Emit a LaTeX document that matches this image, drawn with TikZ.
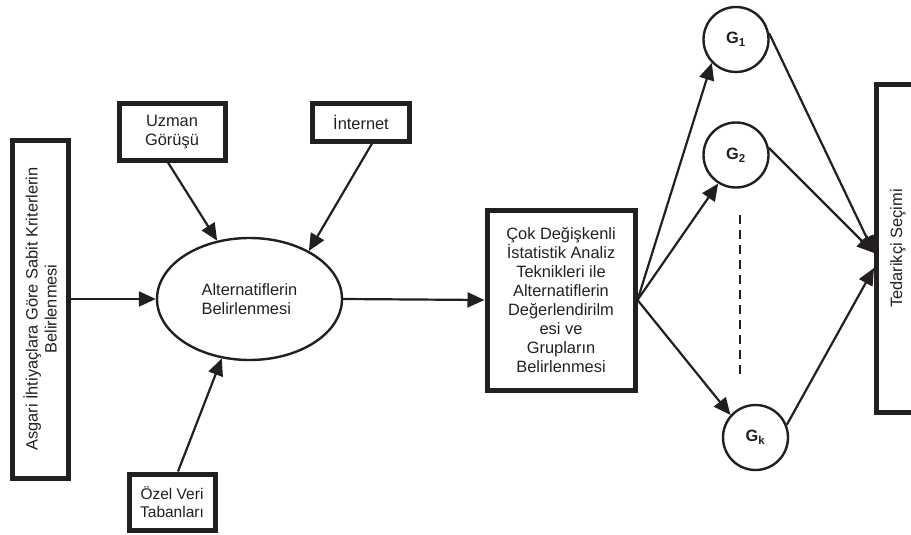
\documentclass[tikz,border=0pt]{standalone}
\usepackage{fontspec}
\setmainfont{Liberation Sans}
\usetikzlibrary{arrows.meta,shapes.geometric}
\definecolor{ink}{RGB}{35,31,32}
\begin{document}
\begin{tikzpicture}[x=1pt,y=-1pt,
  every node/.style={font=\fontsize{16.4}{19}\selectfont, text=ink, inner sep=0pt},
  thickbox/.style={draw=ink, line width=5pt, rectangle, align=center},
  gnode/.style={draw=ink, line width=2.4pt, circle, minimum size=65pt, font=\fontsize{16.4}{19}\selectfont\bfseries},
  arr/.style={draw=ink, line width=2.2pt, -{Triangle[length=17pt,width=15pt]}},
  dashline/.style={draw=ink, line width=2.4pt, dash pattern=on 9pt off 6pt}]
\useasboundingbox (0,0) rectangle (911,535);
\clip (0,0) rectangle (911,535);
% boxes
\node[thickbox, rotate=90, minimum width=338pt, minimum height=56pt] (lb) at (40,309) {Asgari İhtiyaçlara Göre Sabit Kriterlerin\\Belirlenmesi};
\node[draw=ink, line width=2.4pt, ellipse, minimum width=185pt, minimum height=122pt, align=left] (ell) at (249.5,299) {Alternatiflerin\\Belirlenmesi};
\node[thickbox, minimum width=106pt, minimum height=56pt] (uz) at (172,132) {Uzman\\Görüşü};
\node[thickbox, minimum width=97pt, minimum height=37pt] (in) at (361,122.5) {İnternet};
\node[thickbox, minimum width=86pt, minimum height=56pt, font=\fontsize{15.5}{18}\selectfont] (oz) at (172,502) {Özel Veri\\Tabanları};
\node[thickbox, minimum width=148pt, minimum height=180pt] (big) at (561,300) {Çok Değişkenli\\İstatistik Analiz\\Teknikleri ile\\Alternatiflerin\\Değerlendirilm\\esi ve\\Grupların\\Belirlenmesi};
\node[thickbox, line width=5pt, rotate=90, minimum width=328pt, minimum height=43pt] (ted) at (898,248.5) {Tedarikçi Seçimi};
% groups
\node[gnode] (G1) at (736,39.5) {G\textsubscript{1}};
\node[gnode] (G2) at (736,155) {G\textsubscript{2}};
\node[gnode] (Gk) at (755.5,437.5) {G\textsubscript{k}};
\coordinate (d1) at (740,215);
\coordinate (d2) at (740,377);
\coordinate (t1) at (874,253);
\coordinate (t2) at (874,268);
% connectors
\draw[arr] (lb.south |- ell.west) -- (ell.west);
\draw[arr] ([xshift=-4pt]uz.south) -- (ell.119);
\draw[arr] ([xshift=11pt]in.south) -- (ell.39);
\draw[arr] ([xshift=6pt]oz.north) -- (ell.-115);
\draw[arr] (ell.east) -- (big.west);
\draw[arr] (big.east) -- (G1.-136);
\draw[arr] (big.east) -- (G2.-122);
\draw[arr] (big.east) -- (Gk.138);
\draw[arr] (G1.11) -- (t1);
\draw[arr] (G2.12) -- (t1);
\draw[arr] (Gk.22) -- (t2);
\draw[dashline] (d1) -- (d2);
\end{tikzpicture}
\end{document}
